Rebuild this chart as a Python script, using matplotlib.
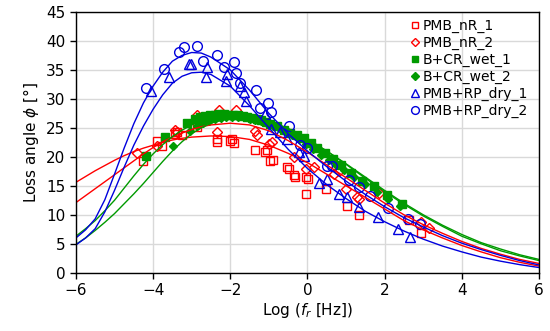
import numpy as np
import matplotlib
matplotlib.use('Agg')
from matplotlib import pyplot as plt

## measured points ---------

nr1_x = [-4.25, -3.9, -3.77, -3.43, -3.38, -3.25, -2.86, -2.35, -2.35, -2.0, -1.96, -1.9, -1.35, -1.09,
         -1.05, -0.96, -0.88, -0.53, -0.48, -0.36, -0.31, -0.05, -0.03, 0.01, 0.47, 1.03, 1.33, 2.63, 2.94]
nr1_y = [19.3, 22.8, 21.9, 24.0, 24.2, 23.7, 25.1, 23.1, 22.5, 22.8, 23.1, 22.4, 21.1, 20.8,
         21.1, 19.2, 19.4, 18.2, 17.9, 16.8, 16.6, 16.5, 13.5, 16.2, 14.5, 11.6, 9.9, 9.1, 6.8]

nr2_x = [-4.41, -3.9, -3.43, -3.38, -2.86, -2.35, -2.30, -1.84, -1.35, -1.31, -1.0, -0.92, -0.36, -0.05,
         0.16, 0.68, 0.81, 0.99, 1.29, 1.33, 1.85, 2.94, 3.15]
nr2_y = [20.6, 21.8, 24.6, 24.2, 27.3, 24.2, 28.1, 28.0, 24.4, 23.7, 22.2, 22.5, 19.9, 17.9,
         18.2, 17.1, 17.6, 14.5, 13.1, 12.8, 13.7, 8.8, 7.8]

wet1_x = [-4.18, -3.69, -3.12, -2.91, -2.78, -2.65, -2.52, -2.40, -2.28, -2.16, -2.04, -1.92, -1.80, -1.68,
          -1.56, -1.44, -1.32, -1.20, -1.08, -0.96, -0.80, -0.62, -0.45, -0.28, -0.10, 0.08, 0.26, 0.45,
          0.65, 0.86, 1.12, 1.42, 1.72, 2.07, 2.46]
wet1_y = [20.2, 23.4, 25.9, 26.5, 26.8, 27.0, 27.2, 27.3, 27.4, 27.4, 27.3, 27.3, 27.2, 27.1,
          26.9, 26.7, 26.5, 26.3, 26.0, 25.7, 25.3, 24.7, 24.1, 23.7, 23.2, 22.4, 21.5, 20.6,
          19.7, 18.6, 17.2, 15.9, 15.0, 13.4, 11.9]

wet2_x = [-3.49, -3.04, -2.85, -2.70, -2.55, -2.40, -2.25, -2.10, -1.95, -1.80, -1.65, -1.50, -1.35, -1.20,
          -1.05, -0.90, -0.75, -0.58, -0.40, -0.22, -0.04, 0.15, 0.35, 0.55, 0.75, 0.95, 1.2, 1.5, 1.8,
          2.1, 2.4]
wet2_y = [21.9, 24.5, 25.3, 25.8, 26.2, 26.5, 26.7, 26.8, 26.9, 26.9, 26.8, 26.6, 26.4, 26.1,
          25.8, 25.4, 25.0, 24.4, 23.7, 23.0, 22.2, 21.3, 20.4, 19.5, 18.6, 17.7, 16.6, 15.3, 14.0,
          12.8, 11.6]

dry1_x = [-4.06, -3.60, -3.08, -3.01, -2.63, -2.61, -2.11, -2.09, -1.74, -1.65, -1.59, -1.09, -0.94, -0.70,
          -0.53, -0.23, -0.10, 0.29, 0.51, 0.81, 1.03, 1.33, 1.83, 2.35, 2.66]
dry1_y = [31.3, 33.8, 36.0, 36.0, 33.8, 35.5, 33.1, 34.3, 32.3, 31.1, 29.7, 27.4, 24.8, 24.2,
          23.1, 20.8, 20.2, 15.4, 16.2, 13.6, 13.1, 11.3, 9.6, 7.6, 6.2]

dry2_x = [-4.18, -3.71, -3.34, -3.19, -2.86, -2.71, -2.35, -2.17, -1.90, -1.85, -1.74, -1.33, -1.22, -1.03,
          -0.94, -0.48, -0.20, -0.01, 0.51, 0.64, 1.07, 1.33, 1.62, 2.09, 2.61, 2.91]
dry2_y = [31.8, 35.2, 38.1, 39.0, 39.2, 36.5, 37.6, 35.5, 36.4, 34.5, 32.8, 31.6, 28.5, 29.3,
          27.8, 25.4, 22.1, 21.6, 18.5, 18.5, 16.0, 14.8, 13.3, 11.2, 9.2, 8.4]

## fitted curves ------------------------------

fit_x = [-6, -5.75, -5.5, -5.25, -5, -4.75, -4.5, -4.25, -4, -3.75, -3.5, -3.25, -3, -2.75, -2.5,
         -2, -1.5, -1, -0.5, 0, 0.5, 1, 1.5, 2, 2.5, 3, 3.5, 4, 4.5, 5, 5.5, 6]
fit_nr1 = [15.6, 16.6, 17.6, 18.5, 19.4, 20.2, 20.9, 21.5, 22.0, 22.5, 22.9, 23.2, 23.4, 23.5, 23.6,
           23.5, 23.0, 22.0, 20.6, 19.0, 17.0, 15.0, 13.0, 11.0, 9.0, 7.4, 6.0, 4.7, 3.6, 2.6, 1.8, 1.15]
fit_nr2 = [12.1, 13.3, 14.5, 15.7, 16.9, 18.1, 19.3, 20.5, 21.6, 22.6, 23.4, 24.1, 24.7, 25.2, 25.5,
           25.8, 25.5, 24.5, 22.8, 20.8, 18.6, 16.4, 14.2, 12.0, 10.0, 8.3, 6.8, 5.4, 4.2, 3.2, 2.3, 1.6]
fit_wet1 = [6.3, 7.6, 9.0, 10.7, 12.5, 14.6, 16.7, 18.7, 20.5, 22.1, 23.5, 24.6, 25.5, 26.2, 26.7,
            27.2, 27.0, 26.2, 24.8, 23.0, 21.0, 18.8, 16.5, 14.2, 12.0, 10.0, 8.2, 6.6, 5.2, 4.1, 3.1, 2.3]
fit_wet2 = [4.9, 6.0, 7.3, 8.7, 10.2, 11.9, 13.6, 15.4, 17.3, 19.2, 21.0, 22.6, 24.0, 25.0, 25.8,
            26.7, 26.8, 26.2, 24.9, 23.1, 21.0, 18.7, 16.3, 14.0, 11.8, 9.8, 8.0, 6.3, 5.0, 3.8, 2.9, 2.1]
fit_dry1 = [4.8, 6.0, 7.6, 10.5, 14.2, 18.2, 22.0, 25.3, 28.2, 30.7, 32.7, 33.9, 34.5, 34.6, 34.2,
            32.2, 28.8, 25.0, 21.3, 18.0, 15.2, 12.8, 10.6, 8.8, 7.2, 5.8, 4.6, 3.6, 2.7, 2.0, 1.4, 0.9]
fit_dry2 = [6.0, 7.4, 9.3, 12.6, 17.0, 21.5, 25.7, 29.3, 32.2, 34.6, 36.5, 37.5, 38.0, 37.9, 37.2,
            35.0, 31.5, 27.5, 24.0, 21.0, 18.3, 15.8, 13.5, 11.4, 9.5, 7.9, 6.4, 5.1, 4.0, 3.0, 2.1, 1.35]

red = '#ff0000'
green = '#009a00'
blue = '#0000dd'

fig = plt.figure(figsize=(5.5, 3.31), dpi=100)
ax = fig.add_axes([0.138, 0.176, 0.842, 0.788])

ms = 6.0
mew = 1.0
ax.plot(nr1_x, nr1_y, 's', ms=ms, mfc='none', mec=red, mew=mew, label='PMB_nR_1')
ax.plot(nr2_x, nr2_y, 'D', ms=ms - 0.8, mfc='none', mec=red, mew=mew, label='PMB_nR_2')
ax.plot(wet1_x, wet1_y, 's', ms=ms, color=green, label='B+CR_wet_1')
ax.plot(wet2_x, wet2_y, 'D', ms=ms - 1.5, color=green, label='B+CR_wet_2')
ax.plot(dry1_x, dry1_y, '^', ms=ms + 1, mfc='none', mec=blue, mew=mew, label='PMB+RP_dry_1')
ax.plot(dry2_x, dry2_y, 'o', ms=ms + 1, mfc='none', mec=blue, mew=mew, label='PMB+RP_dry_2')

lw = 1.0
ax.plot(fit_x, fit_nr1, color=red, lw=lw)
ax.plot(fit_x, fit_nr2, color=red, lw=lw)
ax.plot(fit_x, fit_wet1, color=green, lw=lw)
ax.plot(fit_x, fit_wet2, color=green, lw=lw)
ax.plot(fit_x, fit_dry1, color=blue, lw=lw)
ax.plot(fit_x, fit_dry2, color=blue, lw=lw)

ax.set_xlim(-6, 6)
ax.set_ylim(0, 45)
ax.set_xticks(np.arange(-6, 7, 2))
ax.set_yticks(np.arange(0, 46, 5))
ax.grid(True, color='#d9d9d9', lw=1.0)
ax.set_axisbelow(True)
ax.tick_params(direction='out', length=4, width=1, labelsize=11)
for s in ax.spines.values():
    s.set_linewidth(1.0)

ax.set_xlabel(r'Log ($f_r$ [Hz])', fontsize=11, labelpad=2)
ax.set_ylabel(r'Loss angle $\phi$ [°]', fontsize=11, labelpad=4)

ax.legend(loc='upper right', bbox_to_anchor=(0.995, 1.005), frameon=False, fontsize=10,
          handlelength=0.7, handletextpad=0.2, labelspacing=0.2, borderaxespad=0.2,
          numpoints=1, markerscale=0.8)

plt.savefig('out.png', dpi=100)
